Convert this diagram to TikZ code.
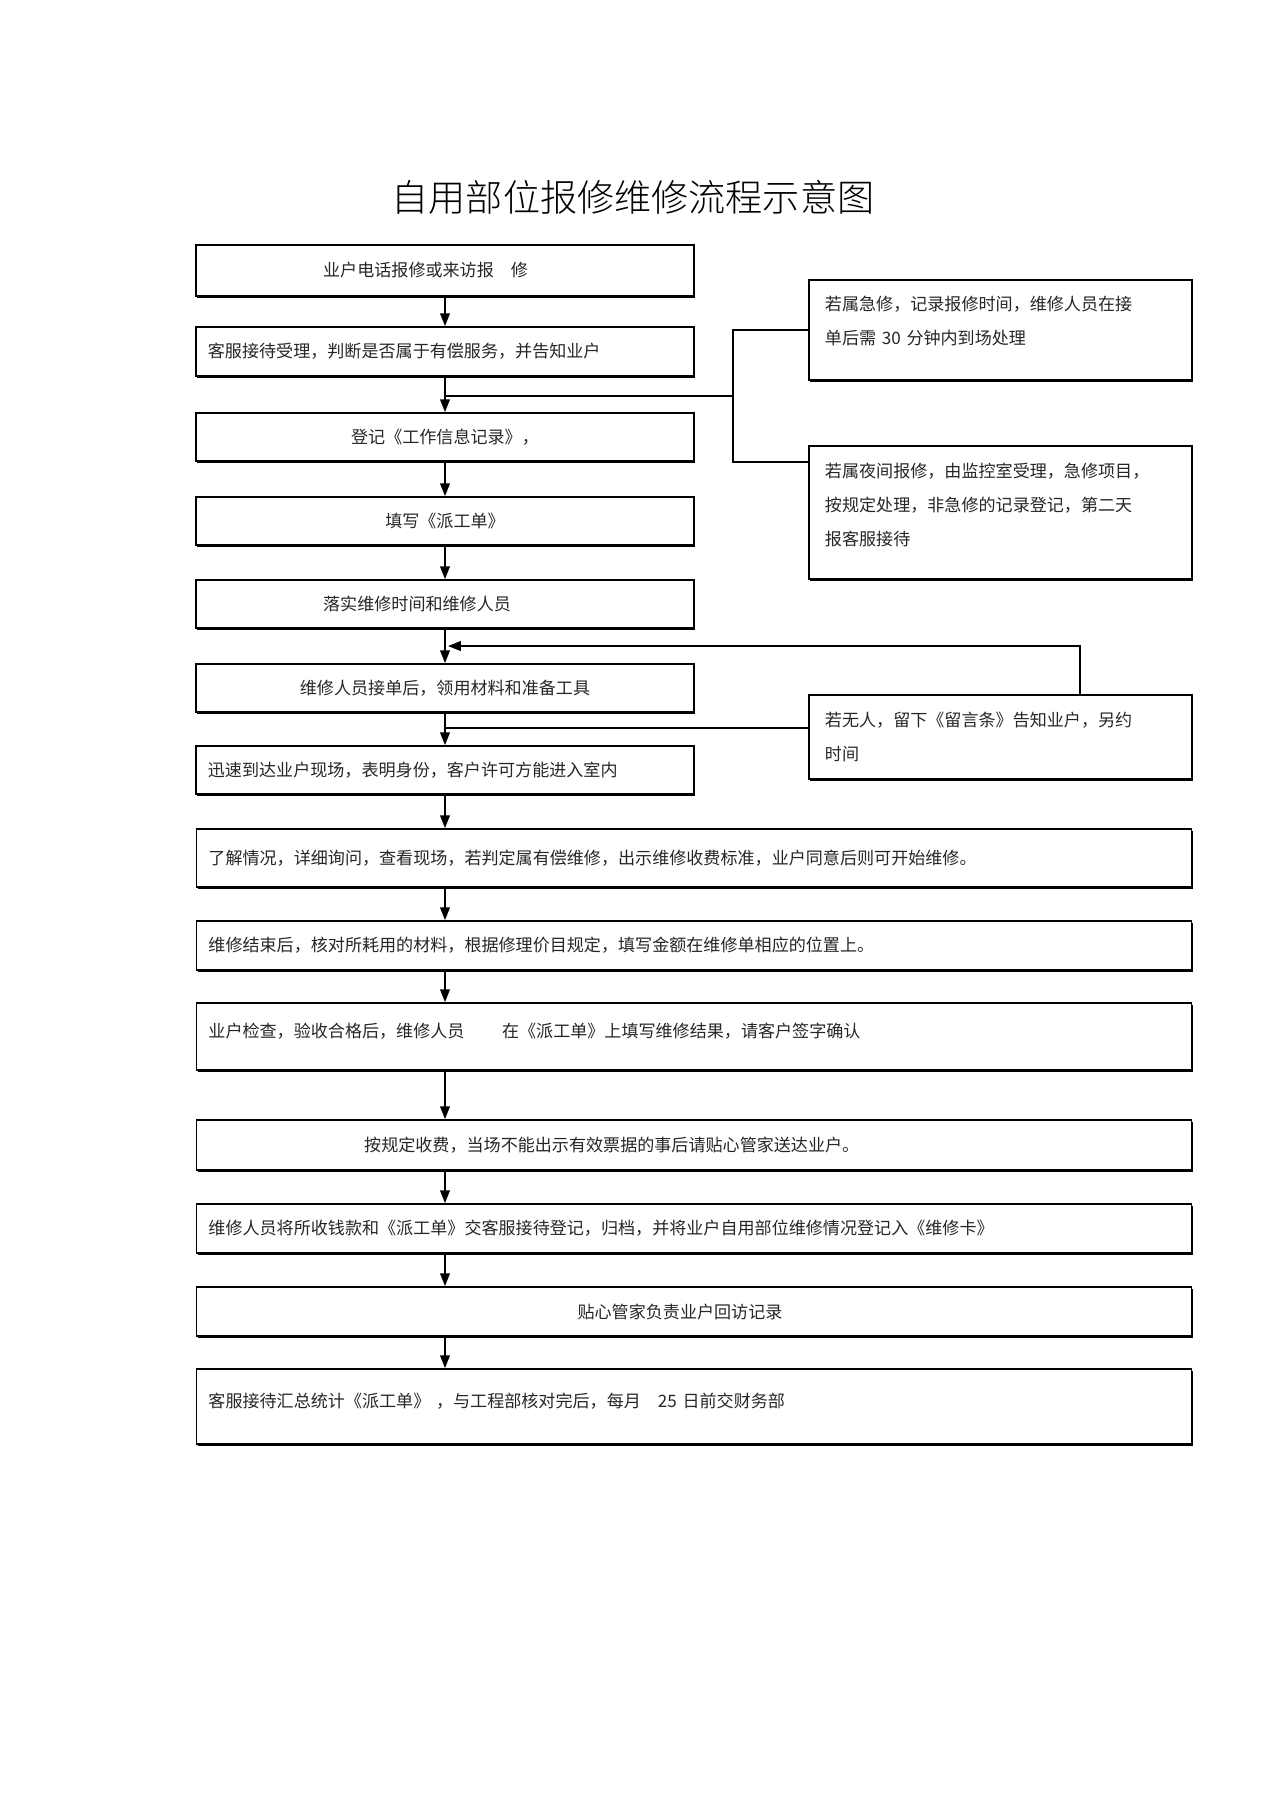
\documentclass[tikz,border=0pt]{standalone}
\usepackage{fontspec}
\setmainfont{Noto Sans CJK SC}
\newfontfamily\titlecjk{Noto Sans CJK SC}[UprightFont={* Light}]
\usetikzlibrary{arrows.meta,shadows}

\newcommand{\pxl}{0.46863pt}
\newcommand{\bodyfont}{\fontsize{8pt}{16pt}\selectfont}
\newcommand{\titlefont}{\titlecjk\fontsize{17.4pt}{22pt}\selectfont}

\begin{document}
\begin{tikzpicture}[x=0.46863pt,y=-0.46863pt,
	box/.style={draw,line width=0.8pt,fill=white,inner xsep=5.6pt,inner ysep=2pt,font=\bodyfont,text=black!85,
		drop shadow={shadow xshift=0.5pt,shadow yshift=-0.7pt,opacity=1,fill=black}},
	sbox/.style={box,text width=222.2pt},
	wbox/.style={box,text width=455.1pt},
	rbox/.style={box,text width=164.5pt,inner xsep=7.5pt,align=left},
	link/.style={line width=0.9pt},
	arr/.style={link,-{Triangle[length=6pt,width=4.5pt]}}]
	\useasboundingbox[fill=white] (0,0) rectangle (1275,1804);
	\node (title) at (633,197) {\titlefont 自用部位报修维修流程示意图};
	% main column
	\node[sbox,align=left,minimum height=51*\pxl] (B1) at (445,270.5) {\hspace*{54pt}业户电话报修或来访报\hspace{1em}修};
	\node[sbox,align=left,minimum height=49*\pxl] (B2) at (445,351.5) {客服接待受理，判断是否属于有偿服务，并告知业户};
	\node[sbox,align=center,minimum height=48*\pxl] (B3) at (445,437) {登记《工作信息记录》，};
	\node[sbox,align=center,minimum height=48*\pxl] (B4) at (445,521) {填写《派工单》};
	\node[sbox,align=left,minimum height=48*\pxl] (B5) at (445,604) {\hspace*{54pt}落实维修时间和维修人员};
	\node[sbox,align=center,minimum height=48*\pxl] (B6) at (445,688) {维修人员接单后，领用材料和准备工具};
	\node[sbox,align=left,minimum height=48*\pxl] (B7) at (445,770) {迅速到达业户现场，表明身份，客户许可方能进入室内};
	\node[wbox,align=left,minimum height=58*\pxl] (B8) at (694,858) {了解情况，详细询问，查看现场，若判定属有偿维修，出示维修收费标准，业户同意后则可开始维修。};
	\node[wbox,align=left,minimum height=49*\pxl] (B9) at (694,945.5) {维修结束后，核对所耗用的材料，根据修理价目规定，填写金额在维修单相应的位置上。};
	\node[wbox,align=left,minimum height=67*\pxl] (B10) at (694,1036.5) {业户检查，验收合格后，维修人员\hspace{2.2em}在《派工单》上填写维修结果，请客户签字确认\par\vspace*{5pt}};
	\node[wbox,align=left,minimum height=50*\pxl] (B11) at (694,1145) {\hspace*{73pt}按规定收费，当场不能出示有效票据的事后请贴心管家送达业户。};
	\node[wbox,align=left,minimum height=49*\pxl] (B12) at (694,1228.5) {维修人员将所收钱款和《派工单》交客服接待登记，归档，并将业户自用部位维修情况登记入《维修卡》};
	\node[wbox,align=left,minimum height=49*\pxl] (B13) at (694,1311.5) {\hspace*{173pt}贴心管家负责业户回访记录};
	\node[wbox,align=left,minimum height=75*\pxl] (B14) at (694,1406.5) {客服接待汇总统计《派工单》 ，与工程部核对完后，每月\hspace{1em}25 日前交财务部\par\vspace*{5pt}};
	% side boxes
	\node[rbox,minimum height=100*\pxl] (R1) at (1000.5,330) {若属急修，记录报修时间，维修人员在接\\单后需 30 分钟内到场处理\par\vspace*{8.6pt}};
	\node[rbox,minimum height=133*\pxl] (R2) at (1000.5,512.5) {若属夜间报修，由监控室受理，急修项目，\\按规定处理，非急修的记录登记，第二天\\报客服接待\par\vspace*{7pt}};
	\node[rbox,minimum height=84*\pxl] (R3) at (1000.5,737) {若无人，留下《留言条》告知业户，另约\\时间};
	% arrows down the column
	\draw[arr] (B1.south) -- (B2.north);
	\draw[arr] (B2.south) -- (B3.north);
	\draw[arr] (B3.south) -- (B4.north);
	\draw[arr] (B4.south) -- (B5.north);
	\draw[arr] (B5.south) -- (B6.north);
	\draw[arr] (B6.south) -- (B7.north);
	\draw[arr] (B7.south) -- (B7.south |- B8.north);
	\draw[arr] (B8.south -| B7.south) -- (B9.north -| B7.south);
	\draw[arr] (B9.south -| B7.south) -- (B10.north -| B7.south);
	\draw[arr] (B10.south -| B7.south) -- (B11.north -| B7.south);
	\draw[arr] (B11.south -| B7.south) -- (B12.north -| B7.south);
	\draw[arr] (B12.south -| B7.south) -- (B13.north -| B7.south);
	\draw[arr] (B13.south -| B7.south) -- (B14.north -| B7.south);
	% bracket to R1 / R2
	\coordinate (j1) at (733,396);
	\coordinate (r2in) at (809,462);
	\draw[link] (B2.south |- j1) -- (j1);
	\draw[link] (R1.west) -| (j1) |- (r2in);
	% R3 links
	\coordinate (r3in) at (809,728);
	\coordinate (r3top) at (1080,695);
	\coordinate (back) at (448,646);
	\draw[link] (r3in) -- (B6.south |- r3in);
	\draw[arr] (r3top) |- (back);
\end{tikzpicture}
\end{document}
